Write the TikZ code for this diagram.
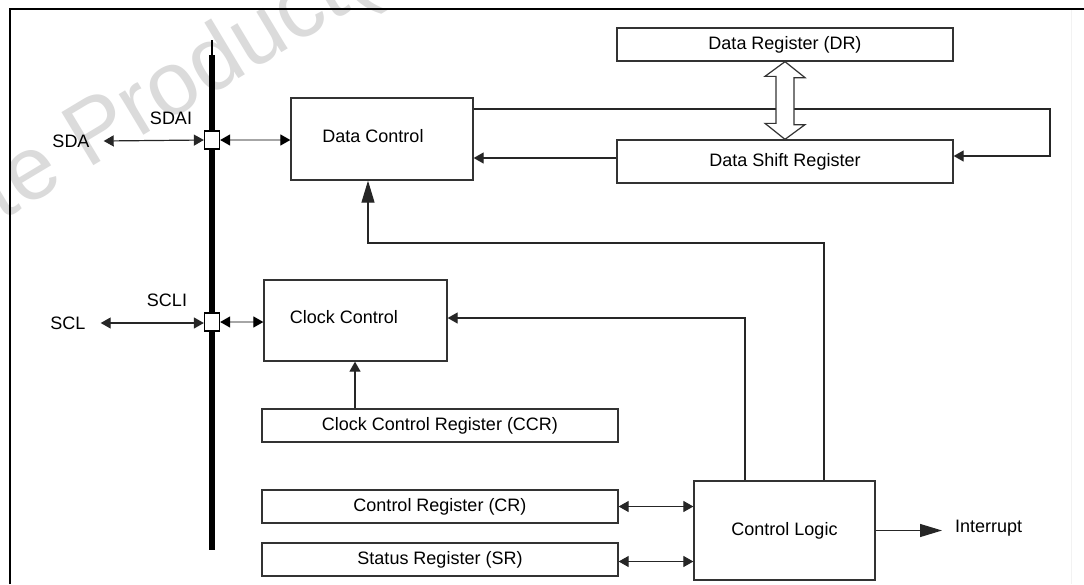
\documentclass[tikz,border=0pt]{standalone}
\usepackage{fontspec}
\setmainfont{Liberation Sans}
\usetikzlibrary{arrows.meta}
\begin{document}
\begin{tikzpicture}[x=1pt,y=-1pt,
  lbl/.style={inner sep=0pt, font=\fontsize{18}{20}\selectfont},
  box/.style={draw=black!80, line width=1.3pt, inner sep=0pt, fill=white, font=\fontsize{18}{20}\selectfont},
  junc/.style={draw=black, line width=1.3pt, fill=white, inner sep=0pt, minimum width=15pt, minimum height=18pt},
  conn/.style={line width=1.2pt, draw=black!85},
  arr/.style={conn, -{Triangle[length=10pt,width=11pt]}},
  dbl/.style={conn, {Triangle[length=10pt,width=11pt]}-{Triangle[length=10pt,width=11pt]}},
  gdbl/.style={line width=1.2pt, draw=black!35, {Triangle[length=10pt,width=11pt,color=black]}-{Triangle[length=10pt,width=11pt,color=black]}},
  bigarr/.style={conn, -{Triangle[length=22pt,width=13pt]}},
  hollow/.style={draw=black!80, line width=1.2pt, fill=white, line join=miter},
  wmark/.style={text=black!14, inner sep=0pt, font=\fontsize{90}{90}\selectfont}]
\useasboundingbox (0,0) rectangle (1084,584);
\fill[white] (0,0) rectangle (1084,584);
% watermark
\begin{scope}
\clip (0,0) rectangle (1084,584);
\node[wmark, rotate=31, anchor=base west] (wm) at (-243,368) {Obsolete Product(s) - Obsolete Product(s)};
\end{scope}
% frame
\draw[line width=2.6pt] (10,584) -- (10,9) -- (1084,9);
\draw[black!5, line width=1pt] (1071,10) -- (1071,584);
% bus
\draw[line width=2pt] (212,40) -- (212,56);
\draw[line width=6pt] (212,55) -- (212,550);
% boxes
\node[box, minimum width=336pt, minimum height=33pt] (dr) at (785,44.5) {Data Register (DR)};
\node[box, minimum width=336pt, minimum height=43pt] (dsr) at (785,161.5) {Data Shift Register};
\node[box, minimum width=182pt, minimum height=82pt] (dc) at (382,139) {};
\node[lbl] (dctext) at (373,136) {Data Control};
\node[box, minimum width=183pt, minimum height=81pt] (cc) at (355.5,320.5) {};
\node[lbl] (cctext) at (344,317) {Clock Control};
\node[box, minimum width=356pt, minimum height=33pt] (ccr) at (440,425.5) {Clock Control Register (CCR)};
\node[box, minimum width=356pt, minimum height=33pt] (cr) at (440,506.5) {Control Register (CR)};
\node[box, minimum width=356pt, minimum height=33pt] (sr) at (440,559.5) {Status Register (SR)};
\node[box, minimum width=181pt, minimum height=99pt] (cl) at (784.5,530.5) {Control Logic};
% junctions
\node[junc] (jsda) at (212,140) {};
\node[junc] (jscl) at (212,322) {};
% labels
\node[lbl] (sda) at (71,141) {SDA};
\node[lbl] (sdai) at (171,118) {SDAI};
\node[lbl] (scl) at (68,323) {SCL};
\node[lbl] (scli) at (167,300) {SCLI};
\node[lbl, anchor=west] (int) at (955,528) {Interrupt};
% connectors
\draw[dbl] ([xshift=14pt]sda.east) -- (jsda.west);
\draw[gdbl] (jsda.east) -- (jsda.east -| dc.west);
\draw[dbl] ([xshift=15pt]scl.east) -- (jscl.west |- scl.east);
\draw[gdbl] (jscl.east) -- (jscl.east -| cc.west);
\coordinate (rt) at (1050,109);
\draw[arr] ([yshift=30pt]dc.east) -- (rt) |- ([yshift=5.5pt]dsr.east);
\draw[arr] ([yshift=3.5pt]dsr.west) -- ([yshift=3.5pt]dsr.west -| dc.east);
\draw[hollow] (dr.south) -- ++(20,16) -- ++(-11,0) -- ++(0,47) -- ++(11,0)
  -- (dsr.north) -- ++(-20,-16) -- ++(11,0) -- ++(0,-47) -- ++(-11,0) -- cycle;
\coordinate (turn) at (368,243);
\draw[bigarr] ([xshift=39.5pt]cl.north) |- (turn) -- (turn |- dc.south);
\draw[arr] ([xshift=-39.5pt]cl.north) |- ([yshift=2.5pt]cc.east);
\draw[arr] ([xshift=-85pt]ccr.north) -- ([xshift=-85pt]ccr.north |- cc.south);
\draw[dbl] (cr.east) -- (cr.east -| cl.west);
\draw[dbl] ([yshift=-2pt]sr.east) -- ([yshift=-2pt]sr.east -| cl.west);
\draw[bigarr] (cl.east) -- ([xshift=-13pt]int.west |- cl.east);
\end{tikzpicture}
\end{document}
